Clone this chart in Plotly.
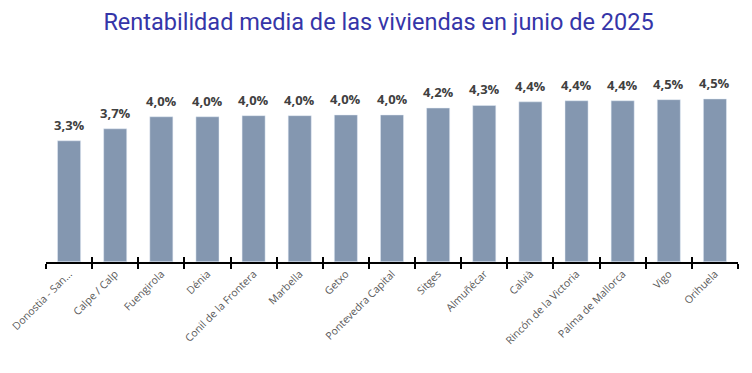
import plotly.graph_objects as go

cities = ["Donostia - San...", "Calpe / Calp", "Fuengirola", "Dénia", "Conil de la Frontera",
          "Marbella", "Getxo", "Pontevedra Capital", "Sitges", "Almuñécar", "Calvià",
          "Rincón de la Victoria", "Palma de Mallorca", "Vigo", "Orihuela"]
yields = [3.33, 3.66, 3.99, 3.99, 4.02, 4.02, 4.04, 4.04, 4.23, 4.30, 4.40, 4.43, 4.43, 4.46, 4.48]
labels = ["3,3%", "3,7%", "4,0%", "4,0%", "4,0%", "4,0%", "4,0%", "4,0%", "4,2%", "4,3%",
          "4,4%", "4,4%", "4,4%", "4,5%", "4,5%"]

fig = go.Figure()
fig.add_trace(go.Bar(x=cities, y=yields, marker_color="#8497B0", width=0.5,
                     hoverinfo="skip", showlegend=False))
# invisible trace carrying the inner half of the crossing tick marks
fig.add_trace(go.Bar(x=cities, y=[0]*len(cities), xaxis="x2", showlegend=False,
                     hoverinfo="skip", marker_color="rgba(0,0,0,0)"))

for c, v, t in zip(cities, yields, labels):
    fig.add_annotation(x=c, y=v, text=t, showarrow=False, yanchor="bottom", yshift=5,
                       font=dict(family="Open Sans", size=13, color="#404040", weight="bold"))

# page body has an 8px default margin -> figure sized to fit inside the window
fig.update_layout(
    width=744, height=365,
    margin=dict(l=38, r=14, t=72, b=111),
    paper_bgcolor="white", plot_bgcolor="white",
    title=dict(text="Rentabilidad media de las viviendas en junio de 2025",
               x=0.498, xanchor="center", y=0.985, yanchor="top",
               font=dict(family="Roboto, sans-serif", size=23.5, color="#3535A8")),
    xaxis=dict(tickangle=-45, showline=True, linecolor="black", linewidth=1.5,
               ticks="outside", tickson="boundaries", ticklen=5, tickcolor="black", tickwidth=1.5,
               tickfont=dict(family="Open Sans", size=10.5, color="#595959"), showgrid=False,
               automargin=False, range=[-0.5, 14.5]),
    xaxis2=dict(overlaying="x", anchor="y", side="bottom",
                showticklabels=False, ticks="inside", tickson="boundaries", ticklen=5,
                tickcolor="black", tickwidth=1.5, showline=False, showgrid=False,
                automargin=False, range=[-0.5, 14.5], type="category",
                categoryorder="array", categoryarray=cities),
    yaxis=dict(range=[0, 5], visible=False, automargin=False),
    bargap=0.5,
)

fig.write_html("out.html")
